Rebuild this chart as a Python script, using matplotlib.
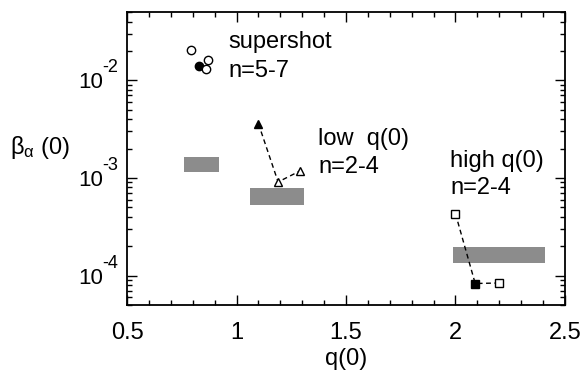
import numpy as np
import matplotlib
matplotlib.use('Agg')
import matplotlib.pyplot as plt
from matplotlib.ticker import MultipleLocator, FixedLocator, LogLocator, NullFormatter

plt.rcParams['font.family'] = ['Liberation Sans', 'DejaVu Sans']
plt.rcParams['mathtext.default'] = 'regular'

# supershot group
super_q = [0.79, 0.83, 0.87, 0.86]
super_b = [0.0203, 0.0139, 0.0160, 0.0130]
super_filled = [False, True, False, False]

# low q(0) group (dashed path, first point filled)
low_q = [1.10, 1.19, 1.29]
low_b = [3.6e-3, 9.1e-4, 1.18e-3]
low_filled = [True, False, False]

# high q(0) group (dashed path, middle point filled)
high_q = [2.00, 2.09, 2.20]
high_b = [4.3e-4, 8.3e-5, 8.4e-5]
high_filled = [False, True, False]

# gray bands
band_q0 = [0.76, 1.06, 1.99]
band_q1 = [0.92, 1.31, 2.41]
band_lo = [1.15e-3, 5.3e-4, 1.36e-4]
band_hi = [1.64e-3, 7.9e-4, 1.94e-4]

x_ticks = [0.5, 1, 1.5, 2, 2.5]
x_labels = ['0.5', '1', '1.5', '2', '2.5']
y_ticks = [1e-4, 1e-3, 1e-2]
y_exps = ['-4', '-3', '-2']

fig = plt.figure(figsize=(5.87, 3.77), dpi=100)
ax = fig.add_axes([0.2164, 0.191, 0.7461, 0.777])

ax.set_yscale('log')
ax.set_xlim(0.5, 2.5)
ax.set_ylim(5e-5, 5e-2)

# bands
widths = np.array(band_q1) - np.array(band_q0)
heights = np.array(band_hi) - np.array(band_lo)
ax.bar(band_q0, heights, width=widths, bottom=band_lo, align='edge',
       color='#8c8c8c', edgecolor='none', zorder=1)


def draw_group(q, b, filled, marker, ms, path=False):
    if path:
        ax.plot(q, b, ls=(0, (3.5, 2.5)), color='black', lw=1.0, zorder=2)
    for qi, bi, f in zip(q, b, filled):
        ax.plot(qi, bi, marker=marker, ms=ms, mec='black', mew=1.0,
                mfc='black' if f else 'white', ls='none', zorder=3)


draw_group(super_q, super_b, super_filled, 'o', 6)
draw_group(low_q, low_b, low_filled, '^', 6, path=True)
draw_group(high_q, high_b, high_filled, 's', 6, path=True)

# annotations, one line each, baseline aligned
fs = 17
ax.text(0.961, 0.0213, 'supershot', fontsize=fs, va='baseline')
ax.text(0.961, 0.01073, 'n=5-7', fontsize=fs, va='baseline')
ax.text(1.372, 2.18e-3, 'low  q(0)', fontsize=fs, va='baseline')
ax.text(1.372, 1.125e-3, 'n=2-4', fontsize=fs, va='baseline')
ax.text(1.975, 1.297e-3, 'high q(0)', fontsize=fs, va='baseline')
ax.text(1.975, 6.86e-4, 'n=2-4', fontsize=fs, va='baseline')

ax.xaxis.set_major_locator(FixedLocator(x_ticks))
ax.xaxis.set_minor_locator(MultipleLocator(0.1))
ax.set_xticklabels(x_labels)

ax.yaxis.set_major_locator(FixedLocator(y_ticks))
ax.yaxis.set_minor_locator(LogLocator(base=10, subs=np.arange(2, 10), numticks=10))
ax.yaxis.set_minor_formatter(NullFormatter())
ax.set_yticklabels(['10'] * len(y_ticks))

ax.tick_params(which='both', direction='in', top=True, right=True, width=1.0)
ax.tick_params(which='major', length=7.2)
ax.tick_params(which='minor', length=3.6)
ax.tick_params(axis='x', which='major', labelsize=17, pad=12)
ax.tick_params(axis='y', which='major', labelsize=16, pad=17)
for s in ax.spines.values():
    s.set_linewidth(1.3)

# exponents of the y tick labels
for yt, e in zip(y_ticks, y_exps):
    ax.annotate(e, xy=(0, yt), xycoords=('axes fraction', 'data'),
                xytext=(-18, 5.8), textcoords='offset points',
                ha='left', va='baseline', fontsize=13)

ax.set_xlabel('q(0)', fontsize=17, labelpad=3)
fig.text(0.017, 1 - 154 / 377, r'$\beta_{\alpha}$ (0)', fontsize=17,
         ha='left', va='baseline')

fig.savefig('out.png', dpi=100)
